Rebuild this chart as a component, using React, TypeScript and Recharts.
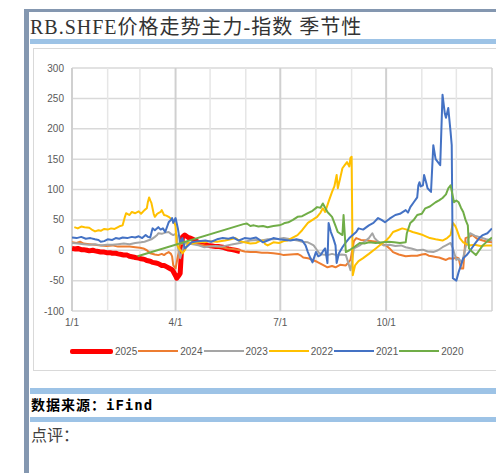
import React from 'react';
import { LineChart, Line, XAxis, YAxis, CartesianGrid, ReferenceLine } from 'recharts';

// RB.SHFE 主力-指数 季节性: x = day of year, y = spread
type Pt = [number, number];

const monthTicks = [0, 31, 59, 90, 120, 151, 181, 212, 243, 273, 304, 334, 365];
const quarterLabels: Record<number, string> = { 0: '1/1', 90: '4/1', 181: '7/1', 273: '10/1' };
const yTicks = [-100, -50, 0, 50, 100, 150, 200, 250, 300];

const s2025: Pt[] = [[0, 3], [3, 2], [5, 3], [8, 1], [10, 1], [13, 0], [15, -1], [18, 0], [20, -1], [23, -2], [25, -3], [28, -3], [30, -4], [33, -4], [35, -5], [38, -5], [40, -6], [43, -7], [45, -8], [48, -8], [50, -10], [53, -11], [55, -12], [58, -13], [60, -14], [63, -15], [65, -17], [68, -18], [70, -20], [73, -21], [75, -22], [78, -25], [80, -25], [82, -27], [85, -30], [87, -32], [88, -35], [90, -42], [91, -46], [93, -41], [94, -38], [95, -5], [96, 22], [98, 25], [101, 21], [103, 20], [105, 18], [108, 15], [110, 13], [113, 12], [115, 10], [118, 8], [122, 7], [125, 6], [128, 6], [131, 5], [134, 3], [136, 2], [139, 1], [142, 0], [146, -2]];

const s2024: Pt[] = [[0, 13], [4, 12], [7, 14], [10, 11], [15, 10], [20, 9], [25, 8], [30, 7], [35, 8], [40, 6], [45, 6], [50, 6], [55, 5], [59, 4], [62, 3], [65, 0], [68, -5], [72, -7], [75, -8], [78, -6], [80, -8], [82, -5], [84, -3], [86, -6], [87, -10], [88, -25], [90, -30], [92, -10], [94, 10], [97, 11], [100, 12], [105, 11], [110, 10], [115, 8], [120, 7], [125, 6], [131, 5], [135, 3], [140, 2], [146, 0], [150, -2], [155, -3], [160, -3], [165, -4], [170, -4], [175, -5], [180, -6], [184, -8], [190, -7], [196, -6], [199, -9], [201, -12], [205, -13], [209, -16], [213, -19], [218, -24], [222, -28], [226, -26], [229, -28], [233, -24], [238, -25], [242, -16], [245, 15], [247, 20], [251, 17], [257, 16], [261, 15], [265, 14], [269, 10], [273, 8], [276, 3], [279, -3], [284, -7], [290, -10], [295, -9], [300, -9], [304, -7], [307, -6], [310, -9], [313, -10], [316, -11], [319, -12], [322, -14], [325, -16], [328, -13], [331, -14], [334, -12], [336, -13], [338, -30], [340, -30], [342, 20], [345, 22], [348, 25], [352, 19], [357, 16], [361, 14], [365, 13]];

const s2023: Pt[] = [[0, 12], [5, 11], [10, 10], [15, 9], [20, 10], [25, 8], [30, 9], [35, 9], [40, 10], [45, 11], [50, 10], [55, 12], [60, 13], [63, 14], [66, 16], [69, 18], [72, 22], [74, 25], [75, 28], [78, 27], [81, 29], [84, 30], [86, 27], [88, 25], [90, 27], [91, 25], [92, 5], [94, -13], [96, 0], [98, 12], [101, 11], [105, 10], [110, 8], [115, 5], [120, 6], [125, 7], [130, 6], [135, 8], [140, 10], [146, 12], [150, 14], [155, 16], [160, 17], [165, 16], [170, 18], [175, 18], [180, 19], [184, 20], [190, 18], [196, 16], [200, 14], [205, 13], [208, 10], [210, 8], [213, 0], [215, -5], [218, -7], [222, -8], [226, -6], [230, -8], [234, -7], [238, -8], [240, -20], [242, -33], [245, 3], [248, 6], [250, 8], [254, 14], [258, 20], [261, 28], [263, 20], [265, 16], [268, 12], [271, 8], [276, 9], [281, 7], [286, 8], [290, 5], [295, 3], [300, 0], [305, 1], [309, -2], [314, -3], [318, 0], [322, 5], [325, 8], [329, 12], [331, 3], [334, -16], [336, -14], [339, -20], [342, 5], [346, 28], [350, 24], [355, 21], [360, 18], [365, 16]];

const s2022: Pt[] = [[2, 38], [5, 36], [8, 39], [11, 38], [15, 37], [18, 33], [20, 31], [23, 33], [25, 32], [28, 35], [31, 34], [34, 36], [37, 35], [40, 38], [42, 40], [44, 41], [46, 55], [47, 61], [50, 58], [52, 63], [55, 61], [58, 64], [60, 60], [63, 66], [65, 69], [66, 80], [67, 87], [68, 82], [69, 78], [71, 60], [72, 55], [74, 60], [75, 61], [77, 63], [78, 66], [80, 58], [82, 57], [84, 55], [86, 52], [87, 50], [89, 45], [90, 40], [91, 10], [93, 3], [96, -5], [98, 0], [101, 12], [105, 11], [110, 14], [115, 13], [120, 15], [126, 14], [133, 16], [138, 18], [142, 20], [146, 15], [150, 13], [155, 11], [160, 12], [163, 15], [166, 16], [168, 10], [170, 8], [173, 11], [175, 13], [180, 12], [184, 15], [187, 16], [191, 20], [196, 25], [200, 33], [205, 45], [209, 50], [213, 55], [216, 62], [218, 69], [220, 63], [223, 80], [226, 96], [228, 105], [230, 124], [231, 102], [233, 118], [235, 135], [237, 140], [239, 145], [241, 138], [242, 152], [243, 154], [244, -41], [246, -25], [249, -18], [253, -13], [258, -6], [264, 3], [268, 9], [273, 16], [276, 22], [279, 30], [283, 33], [287, 36], [291, 34], [296, 30], [300, 28], [305, 25], [311, 20], [316, 18], [322, 16], [326, 20], [329, 25], [331, 45], [333, 40], [334, 36], [337, 20], [340, 13], [345, 8], [350, 9], [355, 7], [360, 8], [365, 8]];

const s2021: Pt[] = [[0, 21], [4, 20], [8, 22], [12, 19], [16, 20], [20, 18], [23, 17], [25, 14], [28, 15], [31, 18], [35, 17], [38, 20], [41, 19], [44, 21], [48, 20], [52, 22], [55, 21], [58, 23], [61, 20], [64, 25], [66, 22], [68, 21], [70, 36], [72, 33], [75, 38], [77, 34], [79, 36], [81, 30], [84, 46], [86, 50], [87, 53], [88, 45], [90, 53], [92, 36], [94, 12], [96, 20], [98, 3], [101, 8], [104, 13], [110, 15], [116, 16], [121, 14], [126, 18], [131, 20], [136, 19], [140, 21], [145, 16], [150, 20], [155, 19], [160, 21], [163, 17], [166, 13], [170, 16], [175, 20], [180, 18], [185, 17], [190, 16], [195, 18], [200, 16], [203, 8], [205, -3], [207, -12], [209, -20], [212, -3], [214, -10], [216, -8], [218, -2], [220, 3], [222, -21], [223, 45], [225, 30], [227, 20], [229, 8], [230, -21], [232, -5], [235, 5], [238, 13], [241, 20], [244, 25], [247, 30], [249, 36], [253, 34], [258, 41], [262, 45], [266, 53], [269, 50], [272, 46], [276, 52], [281, 58], [285, 60], [290, 66], [292, 62], [294, 71], [297, 79], [300, 87], [301, 107], [302, 112], [303, 105], [305, 107], [306, 124], [308, 110], [309, 102], [312, 96], [314, 173], [316, 150], [318, 145], [320, 140], [322, 256], [324, 225], [325, 218], [327, 234], [329, 195], [330, 173], [331, -46], [334, -50], [336, -36], [338, -25], [340, -13], [343, -8], [345, -3], [348, 5], [351, 13], [354, 20], [357, 25], [361, 28], [365, 36]];

const s2020: Pt[] = [[57, -10], [149, 43], [152, 44], [155, 40], [158, 41], [162, 39], [166, 40], [170, 38], [175, 40], [180, 41], [183, 43], [185, 45], [188, 46], [192, 50], [196, 55], [200, 56], [205, 61], [209, 65], [213, 71], [216, 70], [218, 77], [220, 70], [222, 63], [226, 55], [229, 40], [231, 30], [235, 25], [236, 58], [238, -3], [241, 0], [245, 5], [250, 12], [254, 11], [258, 13], [264, 12], [270, 13], [275, 14], [280, 13], [285, 12], [290, 13], [291, 28], [294, 45], [297, 50], [300, 58], [304, 60], [307, 69], [311, 72], [316, 79], [319, 82], [322, 86], [325, 92], [327, 102], [329, 107], [332, 79], [334, 82], [336, 79], [338, 70], [340, 63], [342, 50], [344, 41], [345, 3], [348, -3], [351, -8], [354, 0], [357, 8], [361, 15], [365, 21]];

const series = [
  { name: '2025', pts: s2025, color: '#ff0000', width: 5 },
  { name: '2024', pts: s2024, color: '#ed7d31', width: 2 },
  { name: '2023', pts: s2023, color: '#a5a5a5', width: 2 },
  { name: '2022', pts: s2022, color: '#ffc000', width: 2 },
  { name: '2021', pts: s2021, color: '#4472c4', width: 2 },
  { name: '2020', pts: s2020, color: '#70ad47', width: 2 },
];

const tickStyle = { fontSize: 10, fill: '#595959', fontFamily: "'Liberation Sans', 'Noto Sans', sans-serif" };

export default function App() {
  return (
    <div style={{ position: 'absolute', left: 0, top: 0, width: 496, height: 473, overflow: 'hidden', background: '#fff', fontFamily: "'Liberation Serif', 'Noto Sans CJK SC', serif" }}>
      {/* frame */}
      <div style={{ position: 'absolute', left: 24, top: 9, width: 472, height: 3, background: '#8497b0' }} />
      <div style={{ position: 'absolute', left: 24, top: 9, width: 5, height: 464, background: '#8497b0' }} />
      <div style={{ position: 'absolute', left: 30, top: 16, fontSize: 20, letterSpacing: 1, color: '#333', whiteSpace: 'nowrap', lineHeight: '22px' }}>
        RB.SHFE价格走势主力-指数 季节性
      </div>
      <div style={{ position: 'absolute', left: 30, top: 39, width: 466, height: 5, background: '#9dc3e6' }} />

      {/* chart box */}
      <div style={{ position: 'absolute', left: 33, top: 48, width: 480, height: 323, border: '1px solid #d9d9d9', boxSizing: 'border-box' }} />
      <div style={{ position: 'absolute', left: 33, top: 48 }}>
        <LineChart width={463} height={324} margin={{ top: 20, right: 4, left: 9, bottom: 31 }}>
          <CartesianGrid horizontal vertical={false} stroke="#d9d9d9" strokeWidth={1.5} />
          {monthTicks.map((m) => (
            <ReferenceLine key={m} x={m} stroke={quarterLabels[m] !== undefined || m === 365 ? '#d0d0d0' : '#e6e6e6'} strokeWidth={quarterLabels[m] !== undefined ? 2 : 1.5} />
          ))}
          <XAxis type="number" dataKey="d" domain={[0, 365]} ticks={monthTicks} interval={0}
            tickFormatter={(v) => quarterLabels[v] ?? ''} axisLine={false} tickLine={false} tick={tickStyle} height={30} allowDataOverflow />
          <YAxis type="number" domain={[-100, 300]} ticks={yTicks} interval={0} axisLine={false} tickLine={false} tick={tickStyle} width={30} allowDataOverflow />
          {series.map((s) => (
            <Line key={s.name} data={s.pts.map(([d, v]) => ({ d, v }))} dataKey="v" name={s.name} type="linear"
              stroke={s.color} strokeWidth={s.width} dot={false} isAnimationActive={false} strokeLinejoin="round" />
          ))}
        </LineChart>
      </div>

      {/* legend */}
      <div style={{ position: 'absolute', left: 70, top: 344, display: 'flex', alignItems: 'center', height: 14, fontFamily: "'Liberation Sans', 'Noto Sans', sans-serif", fontSize: 10, color: '#595959' }}>
        {series.map((s) => (
          <div key={s.name} style={{ display: 'flex', alignItems: 'center', marginRight: 1 }}>
            <span style={{ display: 'inline-block', width: s.width > 2 ? 43 : 40, height: s.width, background: s.color, borderRadius: s.width > 2 ? 2 : 0, marginRight: 2 }} />
            <span>{s.name}</span>
          </div>
        ))}
      </div>

      <div style={{ position: 'absolute', left: 30, top: 388, width: 466, height: 6, background: '#9dc3e6' }} />
      <div style={{ position: 'absolute', left: 31, top: 397, fontSize: 14, letterSpacing: 1, fontWeight: 'bold', color: '#000', whiteSpace: 'nowrap', lineHeight: '16px' }}>
        数据来源：<span style={{ fontFamily: "'DejaVu Sans Mono', monospace", fontSize: 14 }}>iFind</span>
      </div>
      <div style={{ position: 'absolute', left: 30, top: 417, width: 466, height: 5, background: '#9dc3e6' }} />
      <div style={{ position: 'absolute', left: 31, top: 426, fontSize: 16, color: '#404040', whiteSpace: 'nowrap', lineHeight: '20px' }}>
        点评：
      </div>
    </div>
  );
}
